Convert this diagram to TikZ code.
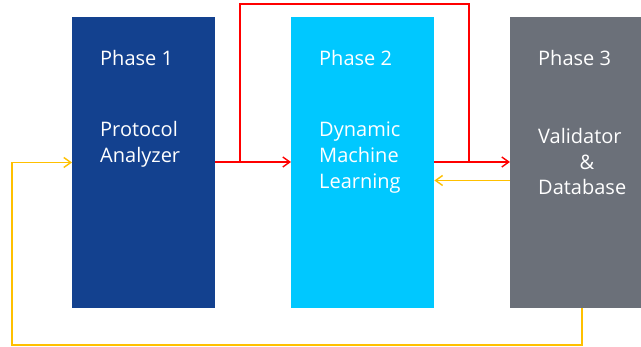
\documentclass[tikz,border=0pt]{standalone}
\usepackage{fontspec}
\setmainfont{Open Sans}
\usetikzlibrary{arrows.meta}
\definecolor{pblue}{HTML}{13418F}
\definecolor{pcyan}{HTML}{00C8FF}
\definecolor{pgray}{HTML}{6B7079}
\definecolor{pred}{HTML}{FF0000}
\definecolor{pyel}{HTML}{FFC000}
\begin{document}
\begin{tikzpicture}[x=1pt,y=-1pt,
  phasebox/.style={draw=none,minimum width=143pt,minimum height=291pt,inner sep=0pt,anchor=north west},
  lbl/.style={text=white,font=\fontsize{20pt}{26pt}\selectfont,inner sep=0pt,anchor=base west},
  redline/.style={draw=pred,line width=1.6pt},
  yelline/.style={draw=pyel,line width=1.6pt},
  tip/.style={-{Straight Barb[length=7pt,width=10pt,line width=1.4pt]}}
]
\useasboundingbox (0,0) rectangle (641,347);
\node[phasebox,fill=pblue] (b1) at (72,17) {};
\node[phasebox,fill=pcyan] (b2) at (291,17) {};
\node[phasebox,fill=pgray,minimum width=131pt] (b3) at (510,17) {};

\node[lbl] (t1) at (100,65.5) {Phase 1};
\node[lbl] (t1a) at (100,136.5) {Protocol};
\node[lbl] (t1b) at (100,162.5) {Analyzer};

\node[lbl] (t2) at (319,65.5) {Phase 2};
\node[lbl] (t2a) at (319,136.5) {Dynamic};
\node[lbl] (t2b) at (319,162.5) {Machine};
\node[lbl] (t2c) at (319,188.5) {Learning};

\node[lbl] (t3) at (538,65.5) {Phase 3};
\node[lbl] (t3a) at (538,143.5) {Validator};
\node[lbl,anchor=base] (t3b) at (587,169.5) {\&};
\node[lbl] (t3c) at (538,194.5) {Database};

% red connectors
\coordinate (j1) at (240,162);
\coordinate (top) at (469,4);
\coordinate (j2) at (469,162);
\draw[redline,tip] (b1.east |- j1) -- (b2.west |- j1);
\draw[redline,tip] (b2.east |- j2) -- (b3.west |- j2);
\draw[redline] (j1) |- (top) -| (j2);

% yellow connectors
\coordinate (y1) at (510,180.5);
\draw[yelline,tip] (b3.west |- y1) -- (b2.east |- y1);
\coordinate (ybot) at (582,345);
\coordinate (yleft) at (12,162.5);
\draw[yelline,tip] (b3.south -| ybot) -- (ybot) -| (yleft) -- (b1.west |- yleft);
\end{tikzpicture}
\end{document}
